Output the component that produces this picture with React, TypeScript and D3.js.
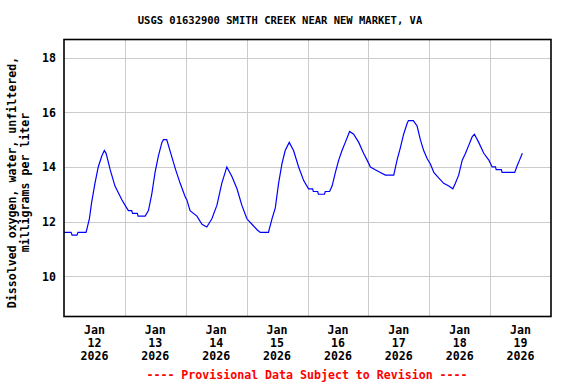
import React from "react";
import * as d3 from "d3";

const title = "USGS 01632900 SMITH CREEK NEAR NEW MARKET, VA";
const yLabelLines = ["Dissolved oxygen, water, unfiltered,", "milligrams per liter"];
const footnote = "---- Provisional Data Subject to Revision ----";

// hours since 2026-01-12 00:00
const hoursFromStart = [
  0, 2.8, 3.2, 5.1, 5.5, 8.7, 10.0, 10.9, 12.2, 13.5, 14.9, 15.9, 16.6, 18.2, 20.1, 22.8, 24.7, 25.4,
  26.7, 27.0, 28.9, 29.2, 32.0, 33.3, 34.6, 35.9, 37.2, 38.6, 39.2, 40.5, 42.1, 44.0, 45.8, 47.8,
  48.4, 49.7, 52.4, 54.4, 56.3, 58.3, 60.3, 62.2, 64.2, 66.2, 68.2, 70.1, 72.1, 74.1, 76.1, 77.4,
  80.6, 82.0, 83.3, 84.6, 85.9, 87.2, 88.8, 90.5, 92.5, 94.5, 96.4, 98.0, 98.3, 100.0, 100.3, 102.7,
  103.0, 104.7, 105.7, 107.0, 108.3, 109.6, 110.9, 112.6, 114.2, 116.2, 118.1, 119.5, 120.8, 122.7,
  124.7, 126.7, 130.0, 131.3, 132.6, 133.9, 135.3, 135.8, 137.7, 139.2, 140.5, 141.8, 143.2, 144.5,
  145.8, 147.7, 149.7, 151.7, 153.3, 154.3, 155.6, 157.0, 158.3, 159.6, 160.9, 161.8, 163.5, 165.5,
  167.5, 168.8, 170.1, 170.4, 172.4, 172.7, 177.7, 178.7, 179.6, 180.7,
];
const oxygen = [
  11.6, 11.6, 11.5, 11.5, 11.6, 11.6, 12.1, 12.7, 13.4, 14.0, 14.4, 14.6, 14.5, 13.9, 13.3, 12.8, 12.5, 12.4,
  12.4, 12.3, 12.3, 12.2, 12.2, 12.4, 13.0, 13.8, 14.4, 14.9, 15.0, 15.0, 14.5, 13.9, 13.4, 12.9,
  12.8, 12.4, 12.2, 11.9, 11.8, 12.1, 12.6, 13.4, 14.0, 13.65, 13.2, 12.6, 12.1, 11.9, 11.7, 11.6,
  11.6, 12.1, 12.5, 13.4, 14.1, 14.6, 14.9, 14.6, 14.0, 13.5, 13.2, 13.2, 13.1, 13.1, 13.0, 13.0,
  13.1, 13.1, 13.3, 13.8, 14.25, 14.6, 14.9, 15.3, 15.2, 14.9, 14.5, 14.25, 14.0, 13.9,
  13.8, 13.7, 13.7, 14.25, 14.7, 15.2, 15.6, 15.7, 15.7, 15.5, 15.0, 14.6, 14.3, 14.1,
  13.8, 13.6, 13.4, 13.3, 13.2, 13.4, 13.7, 14.25, 14.5, 14.8, 15.1, 15.2, 14.9, 14.5,
  14.25, 14.0, 14.0, 13.9, 13.9, 13.8, 13.8, 14.05, 14.25, 14.5,
];
const yTicks = [10, 12, 14, 16, 18];
const dayLabels = ["12", "13", "14", "15", "16", "17", "18", "19"];
const monthLabel = "Jan";
const yearLabel = "2026";

const W = 576;
const H = 384;
const left = 64;
const right = 551;
const top = 39.5;
const bottom = 316.5;
const font = "'DejaVu Sans Mono', 'Liberation Mono', monospace";

export default function App() {
  const start = Date.UTC(2026, 0, 12);
  const x = d3
    .scaleUtc()
    .domain([new Date(start), new Date(start + 8 * 24 * 3600 * 1000)])
    .range([left, right]);
  const y = d3.scaleLinear().domain([8.52, 18.67]).range([bottom, top]);

  const pts = hoursFromStart.map((h, i) => ({ t: new Date(start + h * 3600 * 1000), v: oxygen[i] }));
  const line = d3
    .line<{ t: Date; v: number }>()
    .x((d) => x(d.t))
    .y((d) => y(d.v));

  const dayGrid = d3.range(1, 8).map((i) => new Date(start + i * 24 * 3600 * 1000));
  const dayCenters = dayLabels.map((_, i) => new Date(start + (i + 0.5) * 24 * 3600 * 1000));

  return (
    <svg width={W} height={H} style={{ position: "absolute", left: 0, top: 0, background: "#fff" }}>
      <rect x={0} y={0} width={W} height={H} fill="#fff" />
      <text x={280} y={24} textAnchor="middle" fontFamily={font} fontWeight="bold" fontSize={10.5} fill="#000">
        {title}
      </text>
      {/* grid */}
      {dayGrid.map((d, i) => (
        <line key={"gx" + i} x1={Math.round(x(d)) + 0.5} x2={Math.round(x(d)) + 0.5} y1={top} y2={bottom} stroke="#cccccc" strokeWidth={1} />
      ))}
      {yTicks.map((t) => (
        <line key={"gy" + t} x1={left} x2={right} y1={Math.round(y(t)) + 0.5} y2={Math.round(y(t)) + 0.5} stroke="#cccccc" strokeWidth={1} />
      ))}
      <path d={line(pts) || ""} fill="none" stroke="#0000ff" strokeWidth={1.2} />
      <rect x={left} y={top} width={right - left} height={bottom - top} fill="none" stroke="#000" strokeWidth={1.6} />
      {yTicks.map((t) => (
        <text key={"yl" + t} x={56} y={y(t) + 4.5} textAnchor="end" fontFamily={font} fontWeight="bold" fontSize={11.6} fill="#000">
          {t}
        </text>
      ))}
      {dayCenters.map((d, i) => (
        <g key={"xl" + i} fontFamily={font} fontWeight="bold" fontSize={11.6} fill="#000" textAnchor="middle">
          <text x={x(d)} y={334}>{monthLabel}</text>
          <text x={x(d)} y={347}>{dayLabels[i]}</text>
          <text x={x(d)} y={360}>{yearLabel}</text>
        </g>
      ))}
      <g fontFamily={font} fontWeight="bold" fontSize={11.6} fill="#000" textAnchor="middle">
        <text transform={`translate(16,182.5) rotate(-90)`}>{yLabelLines[0]}</text>
        <text transform={`translate(29,182.5) rotate(-90)`}>{yLabelLines[1]}</text>
      </g>
      <text x={307} y={379} textAnchor="middle" fontFamily={font} fontWeight="bold" fontSize={11.6} fill="#ff0000">
        {footnote}
      </text>
    </svg>
  );
}
